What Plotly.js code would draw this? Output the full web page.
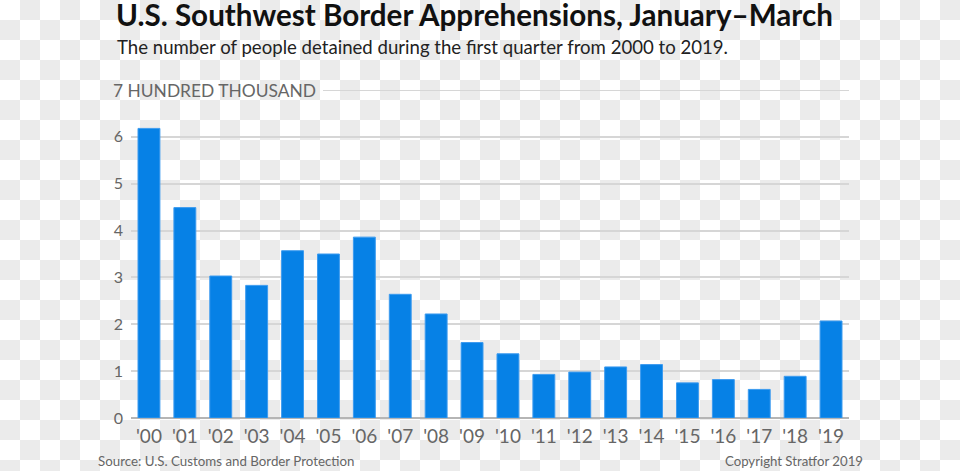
<!DOCTYPE html>
<html>
<head>
<meta charset="utf-8">
<script src="https://cdn.plot.ly/plotly-3.0.1.min.js"></script>
<style>
  html, body { margin: 0; padding: 0; }
  body {
    width: 960px; height: 471px; overflow: hidden;
    background: repeating-conic-gradient(#ebebeb 0 25%, #ffffff 0 50%) 0 0 / 40px 40px;
  }
  #chart { width: 960px; height: 471px; }
</style>
</head>
<body>
<div id="chart"></div>
<script>
// Data (hundred thousands of apprehensions, Jan–Mar)
const years = ["'00","'01","'02","'03","'04","'05","'06","'07","'08","'09",
               "'10","'11","'12","'13","'14","'15","'16","'17","'18","'19"];
const apprehensions = [6.18, 4.49, 3.03, 2.83, 3.57, 3.50, 3.86, 2.64, 2.22, 1.61,
                       1.37, 0.93, 0.98, 1.09, 1.14, 0.75, 0.82, 0.61, 0.89, 2.07];
const yTickVals = [0, 1, 2, 3, 4, 5, 6];
const yTickText = ["0", "1", "2", "3", "4", "5", "6"];

const titleText = "U.S. Southwest Border Apprehensions, January–March";
const subtitleText = "The number of people detained during the first quarter from 2000 to 2019.";
const unitText = "7 HUNDRED THOUSAND";
const sourceText = "Source: U.S. Customs and Border Protection";
const copyrightText = "Copyright Stratfor 2019";

const gridColor = "#d6d6d6";
const textGray = "#666666";

const trace = {
  type: "bar",
  x: years,
  y: apprehensions,
  marker: { color: "#0681e6", line: { color: "#3d9bef", width: 1 } },
  hoverinfo: "x+y"
};

const layout = {
  width: 960, height: 471,
  margin: { l: 131, r: 111, t: 89.5, b: 52.5, pad: 0 },
  paper_bgcolor: "rgba(0,0,0,0)",
  plot_bgcolor: "rgba(0,0,0,0)",
  showlegend: false,
  bargap: 0.39,
  font: { family: "Lato, 'Open Sans', sans-serif", color: textGray },
  title: {
    text: titleText,
    x: 116 / 960, xanchor: "left", xref: "container",
    y: 1 - 15.5 / 471, yanchor: "middle", yref: "container",
    font: { family: "Lato, sans-serif", size: 29.6, weight: 700, color: "#111111" }
  },
  xaxis: {
    type: "category",
    tickfont: { size: 19, color: textGray },
    showgrid: false, showline: false, zeroline: false,
    ticks: "", ticklabelstandoff: 5
  },
  yaxis: {
    range: [0, 7],
    tickvals: yTickVals,
    ticktext: yTickText,
    tickfont: { size: 16, color: textGray },
    showgrid: true, gridcolor: gridColor, gridwidth: 2,
    zeroline: true, zerolinecolor: "#b5b5b5", zerolinewidth: 2,
    showline: false, ticks: "", ticklabelstandoff: 7
  },
  shapes: [
    { type: "line", xref: "paper", yref: "y", x0: (323 - 131) / 718, x1: 1, y0: 7, y1: 7,
      line: { color: gridColor, width: 2 }, layer: "below" }
  ],
  annotations: [
    { text: subtitleText, xref: "paper", yref: "paper",
      x: (115 - 131) / 718, y: (418.5 - 46) / 329, xanchor: "left", yanchor: "middle",
      showarrow: false, font: { size: 18.6, color: "#222222" } },
    { text: unitText, xref: "paper", yref: "y",
      x: (111 - 131) / 718, y: 7, xanchor: "left", yanchor: "middle",
      showarrow: false, font: { size: 17.4, color: textGray } },
    { text: sourceText, xref: "paper", yref: "paper",
      x: (96 - 131) / 718, y: (418.5 - 462) / 329, xanchor: "left", yanchor: "middle",
      showarrow: false, font: { size: 13.3, color: textGray } },
    { text: copyrightText, xref: "paper", yref: "paper",
      x: (865 - 131) / 718, y: (418.5 - 462) / 329, xanchor: "right", yanchor: "middle",
      showarrow: false, font: { size: 13.2, color: textGray } }
  ]
};

Plotly.newPlot("chart", [trace], layout, { displayModeBar: false, staticPlot: true });
</script>
</body>
</html>
